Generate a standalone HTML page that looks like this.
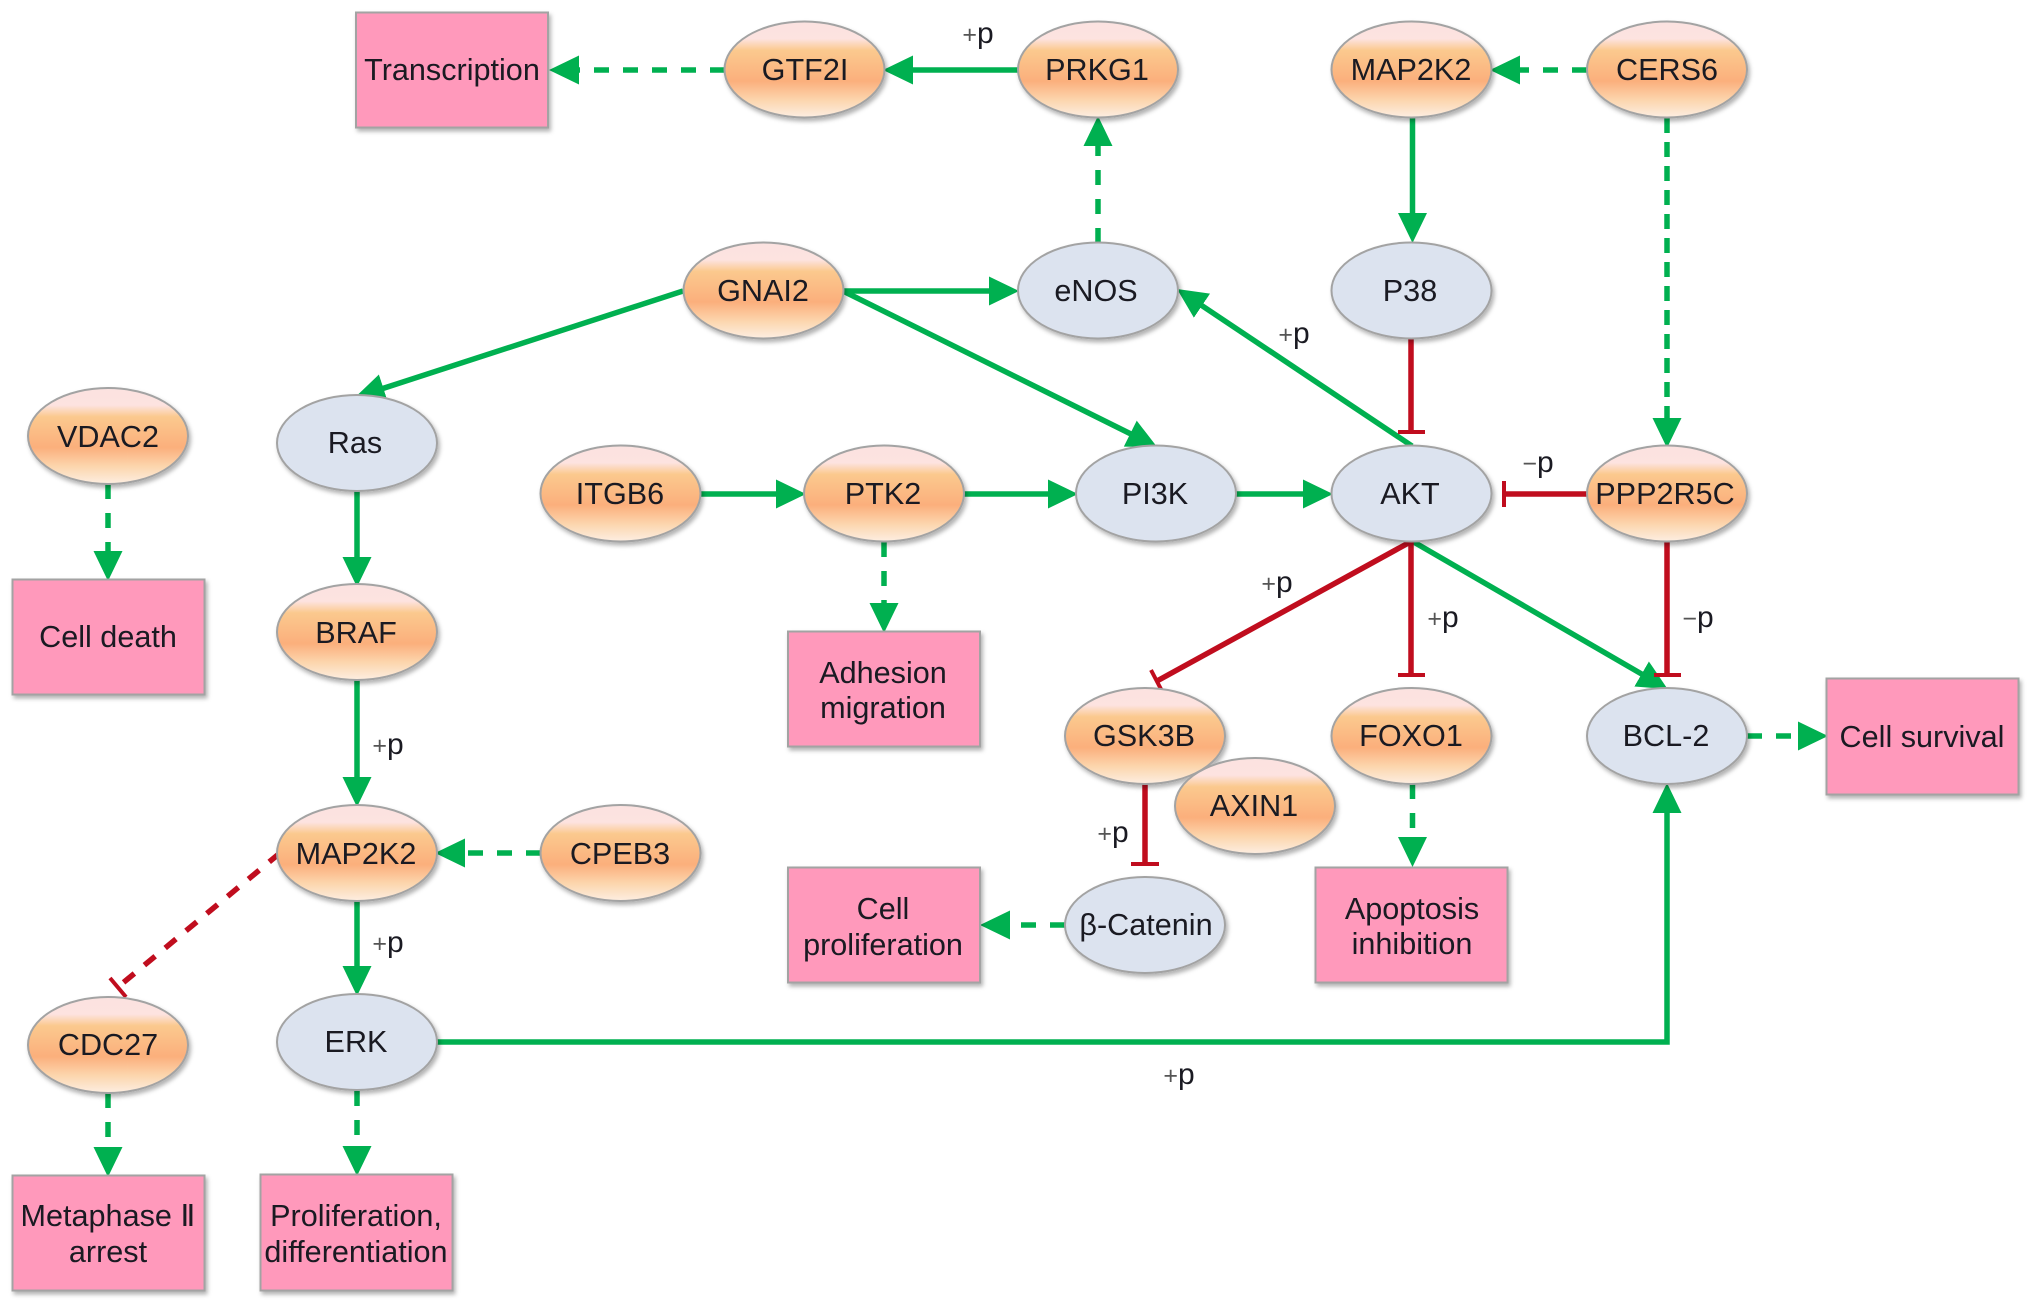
<!DOCTYPE html>
<html><head><meta charset="utf-8"><style>
html,body{margin:0;padding:0;background:#fff}
svg{display:block}
text{font-family:"Liberation Sans",Arial,sans-serif;font-size:30.6px;fill:#1a1a22;text-anchor:middle}
.g{stroke:#00b050;stroke-width:5.5;fill:none}
.r{stroke:#c00d1e;stroke-width:5.5;fill:none}
.d{stroke-dasharray:15 14}
.e{stroke:#a3a3a3;stroke-width:2}
.b{stroke:#a3a3a3;stroke-width:2;fill:#ff99bb}
.p{font-size:30px}
.p tspan{font-size:25px;fill:#555}
</style></head><body>
<svg width="2031" height="1305" viewBox="0 0 2031 1305" xmlns="http://www.w3.org/2000/svg">
<defs>
<linearGradient id="o" x1="0" y1="0" x2="0" y2="1">
<stop offset="0" stop-color="#fbe2e0"/><stop offset=".18" stop-color="#fde3e0"/><stop offset=".3" stop-color="#fbc98e"/><stop offset=".62" stop-color="#fbaf7c"/><stop offset=".82" stop-color="#fcd6ae"/><stop offset="1" stop-color="#fdeee2"/>
</linearGradient>
<filter id="s" x="-10%" y="-10%" width="125%" height="125%"><feDropShadow dx="2" dy="3" stdDeviation="2.2" flood-color="#000" flood-opacity=".3"/></filter>
<marker id="a" markerUnits="userSpaceOnUse" markerWidth="31" markerHeight="31" refX="12" refY="15" orient="auto"><path d="M0,0.5 L30,15 L0,29.500 Z" fill="#00b050"/></marker>
</defs>

<!-- connectors -->
<g>
<line class="g d" x1="725" y1="70" x2="567" y2="70" marker-end="url(#a)"/>
<line class="g" x1="1018" y1="70" x2="901" y2="70" marker-end="url(#a)"/>
<line class="g d" x1="1587" y1="70" x2="1508" y2="70" marker-end="url(#a)"/>
<line class="g d" x1="1098" y1="243" x2="1098" y2="134" marker-end="url(#a)"/>
<line class="g" x1="1412.5" y1="117" x2="1412.5" y2="225" marker-end="url(#a)"/>
<line class="g d" x1="1667" y1="118" x2="1667" y2="430" marker-end="url(#a)" style="stroke-dasharray:15 9"/>
<line class="g" x1="843" y1="291" x2="1001" y2="291" marker-end="url(#a)"/>
<line class="g" x1="683" y1="291" x2="372" y2="392" marker-end="url(#a)"/>
<line class="g" x1="843" y1="291" x2="1141" y2="439" marker-end="url(#a)"/>
<line class="g" x1="1412" y1="446" x2="1192" y2="299" marker-end="url(#a)"/>
<line class="g" x1="701" y1="494" x2="788" y2="494" marker-end="url(#a)"/>
<line class="g" x1="964" y1="494" x2="1060" y2="494" marker-end="url(#a)"/>
<line class="g" x1="1236" y1="494" x2="1315" y2="494" marker-end="url(#a)"/>
<line class="g" x1="1412" y1="541" x2="1652" y2="680" marker-end="url(#a)"/>
<line class="g d" x1="884" y1="542" x2="884" y2="615" marker-end="url(#a)"/>
<line class="g d" x1="1412.5" y1="784" x2="1412.5" y2="849" marker-end="url(#a)"/>
<line class="g d" x1="1065" y1="925" x2="998" y2="925" marker-end="url(#a)"/>
<line class="g d" x1="1747" y1="736" x2="1810" y2="736" marker-end="url(#a)"/>
<polyline class="g" points="437,1042 1667,1042 1667,801" marker-end="url(#a)"/>
<line class="g d" x1="108" y1="484" x2="108" y2="563" marker-end="url(#a)"/>
<line class="g" x1="357" y1="491" x2="357" y2="569" marker-end="url(#a)"/>
<line class="g" x1="357" y1="680" x2="357" y2="789" marker-end="url(#a)"/>
<line class="g" x1="357" y1="901" x2="357" y2="978" marker-end="url(#a)"/>
<line class="g d" x1="541" y1="853" x2="453" y2="853" marker-end="url(#a)"/>
<line class="g d" x1="108" y1="1093" x2="108" y2="1159" marker-end="url(#a)"/>
<line class="g d" x1="357" y1="1091" x2="357" y2="1158" marker-end="url(#a)"/>

<line class="r" x1="1411" y1="338" x2="1411" y2="432"/>
<line class="r" x1="1398" y1="432" x2="1425" y2="432" style="stroke-width:4"/>
<line class="r" x1="1587" y1="494" x2="1504" y2="494"/>
<line class="r" x1="1504" y1="481" x2="1504" y2="507" style="stroke-width:4"/>
<line class="r" x1="1412" y1="541" x2="1157" y2="681"/>
<line class="r" x1="1151" y1="670" x2="1163" y2="693" style="stroke-width:4"/>
<line class="r" x1="1411" y1="541" x2="1411" y2="675"/>
<line class="r" x1="1398" y1="675" x2="1425" y2="675" style="stroke-width:4"/>
<line class="r" x1="1667" y1="542" x2="1667" y2="675"/>
<line class="r" x1="1654" y1="675" x2="1681" y2="675" style="stroke-width:4"/>
<line class="r" x1="1145" y1="784" x2="1145" y2="864"/>
<line class="r" x1="1131" y1="864" x2="1159" y2="864" style="stroke-width:4"/>
<line class="r" x1="280" y1="853" x2="118" y2="987" style="stroke-dasharray:14 13"/>
<line class="r" x1="110" y1="978" x2="126" y2="997" style="stroke-width:4"/>
</g>

<!-- boxes -->
<g filter="url(#s)">
<rect class="b" x="356" y="12.500" width="192" height="115"/>
<rect class="b" x="12.500" y="579.500" width="192" height="115"/>
<rect class="b" x="788" y="631.500" width="192" height="115"/>
<rect class="b" x="788" y="867.500" width="192" height="115"/>
<rect class="b" x="12.500" y="1175.500" width="192" height="115"/>
<rect class="b" x="260.500" y="1174.500" width="192" height="116"/>
<rect class="b" x="1315.500" y="867.500" width="192" height="115"/>
<rect class="b" x="1826.500" y="678.500" width="192" height="116"/>
</g>

<!-- ellipses -->
<g filter="url(#s)" class="e">
<g fill="url(#o)">
<ellipse cx="804.500" cy="69.500" rx="80" ry="48"/>
<ellipse cx="1098" cy="69.500" rx="80" ry="48"/>
<ellipse cx="1411.500" cy="69.500" rx="80" ry="48"/>
<ellipse cx="1667" cy="69.500" rx="80" ry="48"/>
<ellipse cx="763.500" cy="290.500" rx="80" ry="48"/>
<ellipse cx="108" cy="436" rx="80" ry="48"/>
<ellipse cx="620.500" cy="493.500" rx="80" ry="48"/>
<ellipse cx="884" cy="493.500" rx="80" ry="48"/>
<ellipse cx="1667" cy="493.500" rx="80" ry="48"/>
<ellipse cx="357" cy="632" rx="80" ry="48"/>
<ellipse cx="1411.500" cy="736" rx="80" ry="48"/>
<ellipse cx="357" cy="853" rx="80" ry="48"/>
<ellipse cx="620.500" cy="853" rx="80" ry="48"/>
<ellipse cx="108" cy="1045" rx="80" ry="48"/>
<ellipse cx="1145" cy="736" rx="80" ry="48"/>
<ellipse cx="1255" cy="806" rx="80" ry="48"/>
</g>
<g fill="#dce3ef">
<ellipse cx="1098" cy="290.500" rx="80" ry="48"/>
<ellipse cx="1411.500" cy="290.500" rx="80" ry="48"/>
<ellipse cx="357" cy="443" rx="80" ry="48"/>
<ellipse cx="1156" cy="493.500" rx="80" ry="48"/>
<ellipse cx="1411.500" cy="493.500" rx="80" ry="48"/>
<ellipse cx="1667" cy="736" rx="80" ry="48"/>
<ellipse cx="1145" cy="925" rx="80" ry="48"/>
<ellipse cx="357" cy="1042" rx="80" ry="48"/>
</g>
</g>

<!-- node labels -->
<text x="805" y="80">GTF2I</text>
<text x="1097" y="80">PRKG1</text>
<text x="1411" y="80">MAP2K2</text>
<text x="1667" y="80">CERS6</text>
<text x="763" y="301">GNAI2</text>
<text x="1096" y="301">eNOS</text>
<text x="1410" y="301">P38</text>
<text x="108" y="447">VDAC2</text>
<text x="355" y="453">Ras</text>
<text x="620" y="504">ITGB6</text>
<text x="883" y="504">PTK2</text>
<text x="1155" y="504">PI3K</text>
<text x="1410" y="504">AKT</text>
<text x="1665" y="504">PPP2R5C</text>
<text x="356" y="643">BRAF</text>
<text x="1144" y="746">GSK3B</text>
<text x="1411" y="746">FOXO1</text>
<text x="1666" y="746">BCL-2</text>
<text x="1254" y="816">AXIN1</text>
<text x="356" y="864">MAP2K2</text>
<text x="620" y="864">CPEB3</text>
<text x="1146" y="935">β-Catenin</text>
<text x="108" y="1055">CDC27</text>
<text x="356" y="1052">ERK</text>

<!-- box labels -->
<text x="452" y="80">Transcription</text>
<text x="108" y="647">Cell death</text>
<text x="883" y="683">Adhesion</text>
<text x="883" y="718">migration</text>
<text x="883" y="919">Cell</text>
<text x="883" y="955">proliferation</text>
<text x="1412" y="919">Apoptosis</text>
<text x="1412" y="954">inhibition</text>
<text x="1922" y="747">Cell survival</text>
<text x="108" y="1226">Metaphase Ⅱ</text>
<text x="108" y="1262">arrest</text>
<text x="356" y="1226">Proliferation,</text>
<text x="356" y="1262">differentiation</text>

<!-- phospho labels -->
<text class="p" x="978" y="43"><tspan>+</tspan>p</text>
<text class="p" x="1294" y="343"><tspan>+</tspan>p</text>
<text class="p" x="1277" y="592"><tspan>+</tspan>p</text>
<text class="p" x="1443" y="627"><tspan>+</tspan>p</text>
<text class="p" x="1698" y="627"><tspan>−</tspan>p</text>
<text class="p" x="1538" y="472"><tspan>−</tspan>p</text>
<text class="p" x="1113" y="842"><tspan>+</tspan>p</text>
<text class="p" x="388" y="754"><tspan>+</tspan>p</text>
<text class="p" x="388" y="952"><tspan>+</tspan>p</text>
<text class="p" x="1179" y="1084"><tspan>+</tspan>p</text>
</svg>
</body></html>
